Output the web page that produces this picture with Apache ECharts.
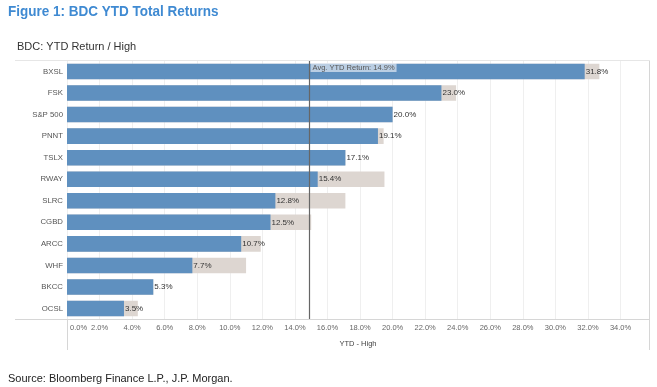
<!DOCTYPE html>
<html>
<head>
<meta charset="utf-8">
<script src="https://cdn.jsdelivr.net/npm/echarts@6/dist/echarts.min.js"></script>
<style>
html,body{margin:0;padding:0;background:#fff;}
#chart{width:657px;height:387px;}
</style>
</head>
<body>
<div id="chart"></div>
<script>
const categories = ['BXSL','FSK','S&P 500','PNNT','TSLX','RWAY','SLRC','CGBD','ARCC','WHF','BKCC','OCSL'];
const ytdReturn = [31.8, 23.0, 20.0, 19.1, 17.1, 15.4, 12.8, 12.5, 10.7, 7.7, 5.3, 3.5];
const ytdHigh   = [32.7, 23.9, 20.0, 19.45, 17.1, 19.5, 17.1, 15.0, 11.9, 11.0, 5.3, 4.35];
const avgReturn = 14.9;
const axisMin = 0, axisMax = 35.75, axisStep = 2;

const chart = echarts.init(document.getElementById('chart'), null, {renderer:'canvas'});
const pct = v => v.toFixed(1) + '%';
const lineCol = '#d6d6d6';

chart.setOption({
  animation: false,
  backgroundColor: '#fff',
  textStyle: {fontFamily: 'Liberation Sans, Arial, sans-serif'},
  title: [
    {text: 'BDC: YTD Return / High', left: 17, top: 41, padding: 0,
     textStyle: {fontSize: 11, fontWeight: 'normal', color: '#333'}},
    {text: 'Source: Bloomberg Finance L.P., J.P. Morgan.', left: 8, top: 373, padding: 0,
     textStyle: {fontSize: 11, fontWeight: 'normal', color: '#222'}}
  ],
  grid: {left: 67, right: 8, top: 60.7, bottom: 67.7},
  xAxis: {
    type: 'value', min: axisMin, max: axisMax, interval: axisStep,
    name: 'YTD - High', nameLocation: 'middle', nameGap: 21,
    nameTextStyle: {fontSize: 7.5, color: '#444'},
    axisLine: {show: false}, axisTick: {show: false},
    axisLabel: {formatter: v => (v === axisMin ? '{first|' + pct(v) + '}' : pct(v)),
                rich: {first: {padding: [0, 0, 0, 3], fontSize: 7.5, color: '#666'}},
                fontSize: 7.5, color: '#666', margin: 5,
                showMaxLabel: false, alignMinLabel: 'left'},
    splitLine: {show: true, lineStyle: {color: '#efefef', width: 1}}
  },
  yAxis: {
    type: 'category', data: categories, inverse: true,
    axisLine: {show: false}, axisTick: {show: false},
    axisLabel: {fontSize: 7.8, color: '#555', margin: 4}
  },
  series: [
    {
      name: 'High', type: 'bar', data: ytdHigh, barWidth: '72%',
      itemStyle: {color: '#ddd6d1'}, silent: true
    },
    {
      name: 'YTD Return', type: 'bar', data: ytdReturn, barWidth: '72%', barGap: '-100%',
      itemStyle: {color: '#5f90bf'},
      label: {show: true, position: 'right', distance: 1, formatter: p => pct(p.value),
              fontSize: 8, color: '#333'},
      markLine: {
        silent: true, symbol: 'none',
        lineStyle: {color: '#666', width: 1.2, type: 'solid'},
        label: {show: false},
        data: [{xAxis: avgReturn}]
      },
      markPoint: {
        silent: true, symbol: 'rect', symbolSize: 0,
        data: [{coord: [avgReturn, categories[0]]}],
        label: {show: true, position: 'right', distance: 1, offset: [0, -4],
                formatter: 'Avg. YTD Return: ' + pct(avgReturn),
                fontSize: 7.5, color: '#555', backgroundColor: 'rgba(235,240,246,0.65)',
                padding: [1, 2, 0, 2]}
      }
    }
  ],
  graphic: [
    {type: 'text', x: 8, y: 12, scaleX: 0.9, scaleY: 1, z: 100,
     style: {text: 'Figure 1: BDC YTD Total Returns', font: 'bold 15px "Liberation Sans", Arial, sans-serif',
             fill: '#3f8ad2', verticalAlign: 'middle', align: 'left'}},
    {type: 'line', shape: {x1: 15, y1: 60.5, x2: 649, y2: 60.5}, style: {stroke: '#e6e6e6', lineWidth: 1}, z: 100},
    {type: 'line', shape: {x1: 15, y1: 319.5, x2: 649, y2: 319.5}, style: {stroke: lineCol, lineWidth: 1}, z: 100},
    {type: 'line', shape: {x1: 649.5, y1: 60.5, x2: 649.5, y2: 350}, style: {stroke: lineCol, lineWidth: 1}, z: 100},
    {type: 'line', shape: {x1: 67.5, y1: 319.5, x2: 67.5, y2: 350}, style: {stroke: lineCol, lineWidth: 1}, z: 100}
  ]
});
</script>
</body>
</html>
